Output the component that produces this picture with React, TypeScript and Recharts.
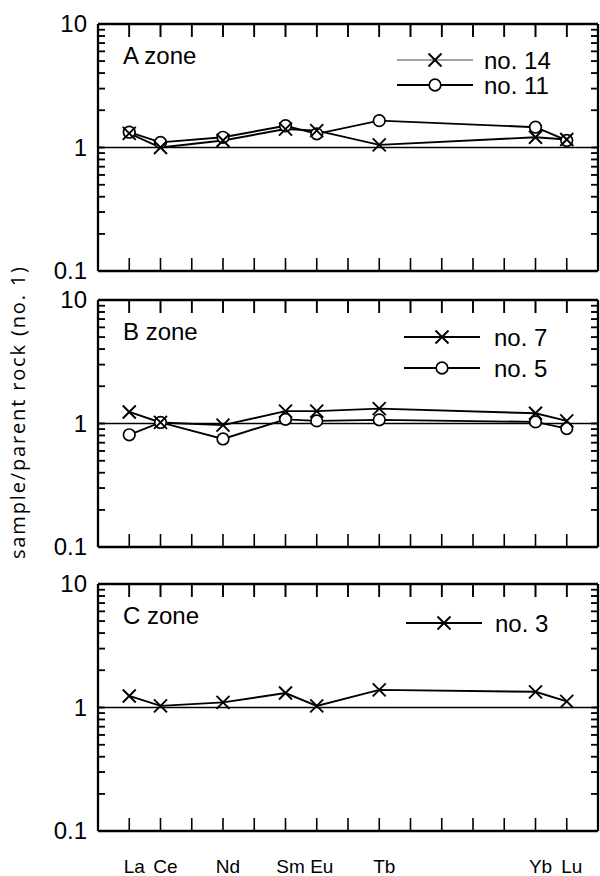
import React from "react";
import { LineChart, Line, XAxis, YAxis, ReferenceLine } from "recharts";

// REE pattern, sample / parent rock (no. 1)
const elements = ["La", "Ce", "Nd", "Sm", "Eu", "Tb", "Yb", "Lu"];
const atomicNumbers = [57, 58, 60, 62, 63, 65, 70, 71];
const xTicks = [57, 58, 59, 60, 61, 62, 63, 64, 65, 66, 67, 68, 69, 70, 71];
const yTicks = [
  0.1, 0.2, 0.3, 0.4, 0.5, 0.6, 0.7, 0.8, 0.9, 1, 2, 3, 4, 5, 6, 7, 8, 9, 10,
];
const yLabelTicks = [0.1, 1, 10];

const zoneA_no14 = [1.3, 1.0, 1.14, 1.41, 1.37, 1.05, 1.21, 1.16];
const zoneA_no11 = [1.33, 1.1, 1.21, 1.5, 1.29, 1.65, 1.46, 1.14];
const zoneB_no7 = [1.24, 1.02, 0.97, 1.26, 1.26, 1.32, 1.21, 1.05];
const zoneB_no5 = [0.81, 1.02, 0.75, 1.08, 1.05, 1.07, 1.03, 0.91];
const zoneC_no3 = [1.24, 1.03, 1.1, 1.31, 1.03, 1.39, 1.34, 1.12];

const W = 600;
const LEFT = 98;
const PLOT_W = 500;
const PLOT_H = 247;
const X_MIN = 56;
const X_MAX = 72;
const Y_MIN = 0.1;
const Y_MAX = 10;
const FONT = "'Liberation Sans', Arial, Helvetica, sans-serif";

type Marker = "cross" | "circle";
type Series = { name: string; values: number[]; marker: Marker; legendThin?: boolean };

// chartTop: where the chart box starts on the page, plotTop: top of the frame
const panels = [
  {
    title: "A zone",
    chartTop: 0,
    plotTop: 24,
    axisH: 14,
    series: [
      { name: "no. 14", values: zoneA_no14, marker: "cross", legendThin: true },
      { name: "no. 11", values: zoneA_no11, marker: "circle" },
    ] as Series[],
    legend: { left: 397, top: 60, gap: 25, textX: 87 },
  },
  {
    title: "B zone",
    chartTop: 285,
    plotTop: 300,
    axisH: 14,
    series: [
      { name: "no. 7", values: zoneB_no7, marker: "cross" },
      { name: "no. 5", values: zoneB_no5, marker: "circle" },
    ] as Series[],
    legend: { left: 404, top: 337, gap: 31, textX: 90 },
  },
  {
    title: "C zone",
    chartTop: 561,
    plotTop: 584,
    axisH: 45,
    series: [{ name: "no. 3", values: zoneC_no3, marker: "cross" }] as Series[],
    legend: { left: 406, top: 623, gap: 30, textX: 89 },
  },
];

function CrossMark({ cx, cy, s = 6.5, w = 1.9 }: any) {
  if (cx == null || cy == null) return null;
  return (
    <g>
      <line x1={cx - s} y1={cy - s} x2={cx + s} y2={cy + s} stroke="#000" strokeWidth={w} />
      <line x1={cx - s} y1={cy + s} x2={cx + s} y2={cy - s} stroke="#000" strokeWidth={w} />
    </g>
  );
}

function CircleMark({ cx, cy }: any) {
  if (cx == null || cy == null) return null;
  return <circle cx={cx} cy={cy} r={5.8} fill="#fff" stroke="#000" strokeWidth={1.7} />;
}

const elementLabel = (showLabels: boolean) => (props: any) => {
  const idx = atomicNumbers.indexOf(props.payload.value);
  return (
    <text x={props.x + 5} y={props.y + 53} textAnchor="middle" fontSize={19} fontFamily={FONT} fill="#000">
      {showLabels && idx >= 0 ? elements[idx] : ""}
    </text>
  );
};

const valueLabel = (props: any) => {
  const v = props.payload.value;
  const show = yLabelTicks.some((t) => Math.abs(t - v) < 1e-9);
  return (
    <text x={props.x - 16} y={props.y + 8} textAnchor="end" fontSize={24} fontFamily={FONT} fill="#000">
      {show ? String(v) : ""}
    </text>
  );
};

const noLabel = (props: any) => (
  <text x={props.x} y={props.y} fontSize={1} fill="none">
    {""}
  </text>
);

// inward frame ticks (left / right minor log ticks, top element ticks),
// laid over the charts; positions follow the same domains as the axes
function FrameTicks({ plotTop }: { plotTop: number }) {
  const yPos = (v: number) =>
    plotTop + (PLOT_H * (Math.log10(Y_MAX) - Math.log10(v))) / (Math.log10(Y_MAX) - Math.log10(Y_MIN));
  const xPos = (z: number) => LEFT + ((z - X_MIN) / (X_MAX - X_MIN)) * PLOT_W;
  const right = LEFT + PLOT_W;
  return (
    <g stroke="#000" fill="none">
      {yTicks.slice(1, -1).map((v) => (
        <g key={`y-${v}`} strokeWidth={1.5}>
          <line x1={LEFT} x2={LEFT + 7} y1={yPos(v)} y2={yPos(v)} />
          <line x1={right - 7} x2={right} y1={yPos(v)} y2={yPos(v)} />
        </g>
      ))}
      {xTicks.map((z) => (
        <line key={`x-${z}`} strokeWidth={1.6} x1={xPos(z)} x2={xPos(z)} y1={plotTop} y2={plotTop + 13} />
      ))}
    </g>
  );
}

function PanelLegend({ series, cfg }: { series: Series[]; cfg: any }) {
  return (
    <svg
      width={200}
      height={cfg.gap * series.length + 20}
      style={{ position: "absolute", left: cfg.left, top: cfg.top - 12, overflow: "visible" }}
    >
      {series.map((s, i) => {
        const y = 12 + i * cfg.gap;
        return (
          <g key={s.name}>
            <line
              x1={0}
              y1={y}
              x2={76}
              y2={y}
              stroke={s.legendThin ? "#444" : "#000"}
              strokeWidth={s.legendThin ? 1.2 : 2}
            />
            {s.marker === "cross" ? <CrossMark cx={38} cy={y} /> : <CircleMark cx={38} cy={y} />}
            <text x={cfg.textX} y={y + 9} fontSize={24} fontFamily={FONT} fill="#000">
              {s.name}
            </text>
          </g>
        );
      })}
    </svg>
  );
}

function Panel({ p, last }: { p: (typeof panels)[number]; last: boolean }) {
  const data = atomicNumbers.map((z, i) => {
    const row: any = { z };
    p.series.forEach((s) => (row[s.name] = s.values[i]));
    return row;
  });
  // circles underneath, crosses on top
  const drawOrder = [...p.series].sort(
    (a, b) => (a.marker === "circle" ? -1 : 1) - (b.marker === "circle" ? -1 : 1)
  );
  const marginTop = p.plotTop - p.chartTop - 1;
  const height = marginTop + 1 + PLOT_H + p.axisH;
  const axisLine = { stroke: "#000", strokeWidth: 2.3 };
  const xTickLine = { stroke: "#000", strokeWidth: 1.6 };
  const yTickLine = { stroke: "#000", strokeWidth: 1.5 };
  return (
    <>
      <div style={{ position: "absolute", left: 0, top: p.chartTop }}>
        <LineChart
          width={W}
          height={height}
          data={data}
          margin={{ top: marginTop, right: W - LEFT - PLOT_W - 2, bottom: 0, left: 0 }}
        >
          <XAxis
            xAxisId="b"
            dataKey="z"
            type="number"
            domain={[X_MIN, X_MAX]}
            ticks={xTicks}
            interval={0}
            allowDataOverflow
            height={p.axisH}
            tickSize={-13}
            tickLine={xTickLine}
            axisLine={axisLine}
            tick={elementLabel(last)}
          />
          <XAxis
            xAxisId="t"
            orientation="top"
            dataKey="z"
            type="number"
            domain={[X_MIN, X_MAX]}
            ticks={xTicks}
            interval={0}
            allowDataOverflow
            height={1}
            tickSize={-13}
            tickLine={xTickLine}
            axisLine={axisLine}
            tick={noLabel}
          />
          <YAxis
            yAxisId="l"
            scale="log"
            type="number"
            domain={[Y_MIN, Y_MAX]}
            ticks={yTicks}
            interval={0}
            allowDataOverflow
            width={LEFT}
            tickSize={-7}
            tickLine={yTickLine}
            axisLine={axisLine}
            tick={valueLabel}
          />
          <YAxis
            yAxisId="r"
            orientation="right"
            scale="log"
            type="number"
            domain={[Y_MIN, Y_MAX]}
            ticks={yTicks}
            interval={0}
            allowDataOverflow
            width={2}
            tickSize={-7}
            tickLine={yTickLine}
            axisLine={axisLine}
            tick={noLabel}
          />
          <ReferenceLine xAxisId="b" yAxisId="l" y={1} stroke="#000" strokeWidth={1.7} />
          {drawOrder.map((s) => (
            <Line
              key={s.name}
              xAxisId="b"
              yAxisId="l"
              dataKey={s.name}
              stroke="#000"
              strokeWidth={1.9}
              isAnimationActive={false}
              activeDot={false}
              dot={(d: any) =>
                s.marker === "cross" ? (
                  <CrossMark key={d.index} cx={d.cx} cy={d.cy} />
                ) : (
                  <CircleMark key={d.index} cx={d.cx} cy={d.cy} />
                )
              }
            />
          ))}
        </LineChart>
      </div>
      <PanelLegend series={p.series} cfg={p.legend} />
      <div
        style={{
          position: "absolute",
          left: LEFT + 25,
          top: p.plotTop + 18,
          fontFamily: FONT,
          fontSize: 24,
          lineHeight: "28px",
          color: "#000",
          pointerEvents: "none",
        }}
      >
        {p.title}
      </div>
    </>
  );
}

export default function App() {
  return (
    <div style={{ position: "absolute", left: 0, top: 0, width: W, height: 876, background: "#fff" }}>
      {panels.map((p, i) => (
        <Panel key={p.title} p={p} last={i === panels.length - 1} />
      ))}
      <svg width={W} height={876} style={{ position: "absolute", left: 0, top: 0, pointerEvents: "none" }}>
        {panels.map((p) => (
          <FrameTicks key={p.title} plotTop={p.plotTop} />
        ))}
        <text
          transform="translate(25,413) rotate(-90)"
          textAnchor="middle"
          fontSize={20}
          textLength={292}
          lengthAdjust="spacing"
          fontFamily="'Open Sans', 'Noto Sans', sans-serif"
          fill="#000"
        >
          sample/parent rock (no. 1)
        </text>
      </svg>
    </div>
  );
}
